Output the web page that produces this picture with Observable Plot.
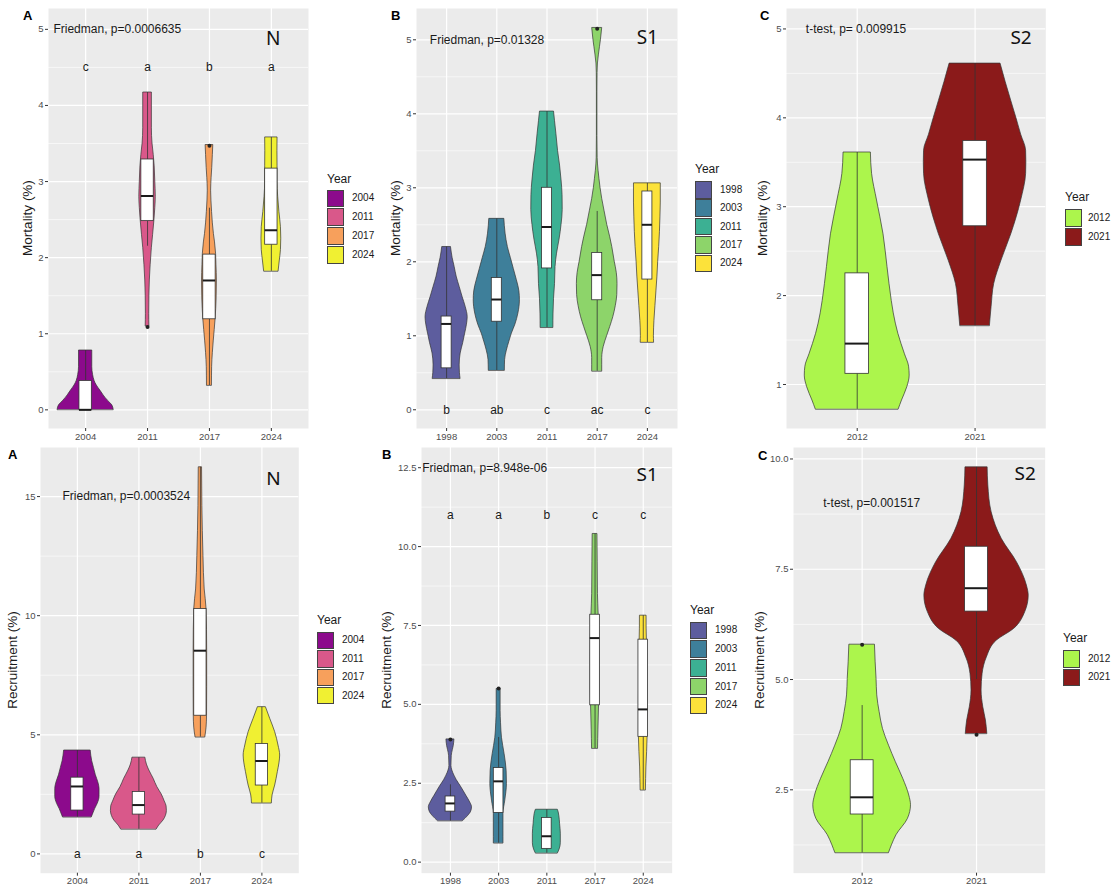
<!DOCTYPE html>
<html><head><meta charset="utf-8">
<script src="https://cdn.jsdelivr.net/npm/d3@7"></script>
<script src="https://cdn.jsdelivr.net/npm/@observablehq/plot@0.6"></script>
<style>
body{margin:0;background:#fff;font-family:"Liberation Sans",Arial,Helvetica,sans-serif}
#root{position:relative;width:1117px;height:889px;overflow:hidden;background:#fff}
.abs{position:absolute}
.tag{font-weight:bold;font-size:13px;line-height:13px;color:#000}
.ylab{font-size:13.5px;line-height:14px;color:#1a1a1a;white-space:nowrap;transform:translate(-50%,-50%) rotate(-90deg)}
.legtitle{font-size:12px;line-height:12px;color:#1a1a1a;transform:translateY(-50%)}
.legkey{width:17px;height:17.5px;border:0.8px solid #444;box-sizing:border-box}
.leglab{font-size:10px;line-height:10px;color:#1a1a1a;transform:translateY(-50%)}
</style></head>
<body><div id="root"></div>
<script>
// ================= DATA =================
// Violin profiles: [value, half-width of violin (in category units)], bottom to top
// ---- Top row A: Mortality, site N ----
const mN_years = ["2004", "2011", "2017", "2024"];
const mN_colors = ["#8C0A8C", "#D9588A", "#F7A05C", "#F0F032"];
const mN_violins = [
  [[0,0.453],[0.06,0.43],[0.12,0.36],[0.19,0.29],[0.25,0.24],[0.32,0.18],[0.38,0.144],[0.46,0.12],[0.56,0.107],[0.78,0.107]],
  [[1.1,0.03],[1.26,0.027],[1.5,0.03],[1.7,0.037],[1.9,0.05],[2.13,0.07],[2.3,0.09],[2.48,0.11],[2.65,0.125],[2.8,0.133],[3.0,0.125],[3.2,0.115],[3.35,0.1],[3.5,0.08],[3.7,0.07],[4.17,0.07]],
  [[0.32,0.04],[0.56,0.043],[0.75,0.055],[0.91,0.07],[1.05,0.085],[1.2,0.1],[1.45,0.115],[1.7,0.12],[1.9,0.113],[2.05,0.107],[2.2,0.09],[2.31,0.072],[2.45,0.055],[2.6,0.042],[2.75,0.032],[2.88,0.027],[3.05,0.035],[3.18,0.045],[3.35,0.055],[3.48,0.062]],
  [[1.82,0.117],[1.95,0.135],[2.1,0.155],[2.25,0.16],[2.4,0.155],[2.6,0.13],[2.8,0.11],[3.0,0.1],[3.2,0.1],[3.4,0.098],[3.58,0.1]]
];
const mN_q1 = [0, 2.48, 1.19, 2.17];
const mN_med = [0, 2.81, 1.70, 2.36];
const mN_q3 = [0.38, 3.29, 2.04, 3.17];
const mN_lo = [0, 2.15, 0.32, 1.82];
const mN_hi = [0.78, 4.17, 2.65, 3.58];
const mN_outYear = ["2011", "2017"];
const mN_outVal = [1.09, 3.47];
const mN_letters = ["c", "a", "b", "a"];
const mN_test = "Friedman, p=0.0006635";
const mN_yTicks = [0, 1, 2, 3, 4, 5];

// ---- Top row B: Mortality, site S1 ----
const mS1_years = ["1998", "2003", "2011", "2017", "2024"];
const mS1_colors = ["#5D5D9E", "#3E7F9A", "#3CB093", "#8DD46A", "#FCE23A"];
const mS1_violins = [
  [[0.42,0.277],[0.5,0.265],[0.6,0.26],[0.76,0.28],[0.9,0.33],[1.03,0.37],[1.15,0.405],[1.25,0.42],[1.39,0.38],[1.52,0.32],[1.66,0.26],[1.8,0.2],[1.93,0.16],[2.05,0.12],[2.2,0.087]],
  [[0.53,0.16],[0.67,0.165],[0.8,0.2],[0.92,0.25],[1.03,0.3],[1.15,0.37],[1.3,0.43],[1.48,0.46],[1.6,0.45],[1.75,0.4],[1.9,0.34],[2.05,0.28],[2.2,0.22],[2.38,0.175],[2.58,0.15]],
  [[1.11,0.127],[1.3,0.13],[1.5,0.14],[1.7,0.16],[1.93,0.17],[2.11,0.2],[2.3,0.25],[2.5,0.29],[2.7,0.313],[2.9,0.31],[3.1,0.29],[3.3,0.26],[3.5,0.22],[3.73,0.187],[3.9,0.16],[4.03,0.14]],
  [[0.52,0.1],[0.7,0.1],[0.85,0.13],[1.0,0.2],[1.12,0.26],[1.25,0.32],[1.4,0.37],[1.55,0.4],[1.7,0.405],[1.85,0.39],[2.0,0.35],[2.2,0.3],[2.33,0.26],[2.5,0.2],[2.69,0.145],[2.85,0.1],[3.0,0.066],[3.12,0.045],[3.23,0.027],[3.4,0.01],[3.7,0.006],[4.0,0.006],[4.3,0.006],[4.55,0.008],[4.68,0.015],[4.8,0.035],[4.9,0.055],[5.0,0.075],[5.16,0.1]],
  [[0.91,0.133],[1.0,0.13],[1.2,0.14],[1.4,0.16],[1.6,0.18],[1.8,0.2],[2.0,0.215],[2.2,0.235],[2.4,0.25],[2.6,0.26],[2.8,0.267],[2.95,0.267],[3.06,0.267]]
];
const mS1_q1 = [0.56, 1.19, 1.91, 1.48, 1.76];
const mS1_med = [1.16, 1.49, 2.47, 1.82, 2.50];
const mS1_q3 = [1.26, 1.78, 3.00, 2.12, 2.95];
const mS1_lo = [0.42, 0.53, 1.11, 0.52, 0.91];
const mS1_hi = [2.20, 2.58, 4.03, 2.68, 3.06];
const mS1_outYear = ["2017"];
const mS1_outVal = [5.15];
const mS1_letters = ["b", "ab", "c", "ac", "c"];
const mS1_test = "Friedman, p=0.01328";
const mS1_yTicks = [0, 1, 2, 3, 4, 5];

// ---- Top row C: Mortality, site S2 ----
const mS2_years = ["2012", "2021"];
const mS2_colors = ["#ACF54C", "#8B1A1A"];
const mS2_violins = [
  [[0.72,0.352],[0.82,0.38],[0.97,0.425],[1.1,0.445],[1.2,0.44],[1.34,0.405],[1.57,0.349],[1.8,0.31],[1.94,0.293],[2.32,0.257],[2.69,0.223],[3.07,0.168],[3.37,0.126],[3.61,0.116]],
  [[1.66,0.126],[1.87,0.14],[2.13,0.162],[2.39,0.223],[2.69,0.307],[3.07,0.391],[3.37,0.433],[3.5,0.435],[3.63,0.433],[3.81,0.391],[4.0,0.35],[4.19,0.307],[4.4,0.26],[4.61,0.216]]
];
const mS2_q1 = [1.12, 2.78];
const mS2_med = [1.46, 3.53];
const mS2_q3 = [2.25, 3.74];
const mS2_lo = [0.72, 1.66];
const mS2_hi = [3.61, 4.61];
const mS2_outYear = [];
const mS2_outVal = [];
const mS2_test = "t-test, p= 0.009915";
const mS2_yTicks = [1, 2, 3, 4, 5];

// ---- Bottom row A: Recruitment, site N ----
const rN_years = ["2004", "2011", "2017", "2024"];
const rN_colors = ["#8C0A8C", "#D9588A", "#F7A05C", "#F0F032"];
const rN_violins = [
  [[1.54,0.235],[1.7,0.26],[1.89,0.29],[2.1,0.33],[2.4,0.36],[2.73,0.36],[3.0,0.34],[3.3,0.3],[3.6,0.27],[3.9,0.24],[4.34,0.216]],
  [[1.03,0.29],[1.19,0.33],[1.4,0.4],[1.6,0.44],[1.8,0.455],[2.0,0.45],[2.2,0.42],[2.5,0.37],[2.8,0.3],[3.15,0.24],[3.5,0.17],[3.75,0.13],[4.04,0.105]],
  [[4.9,0.08],[5.3,0.1],[5.8,0.108],[7.0,0.11],[8.5,0.11],[10.28,0.1],[11.1,0.07],[12.5,0.05],[14.6,0.032],[16.23,0.027]],
  [[2.13,0.162],[2.45,0.173],[2.87,0.216],[3.43,0.259],[3.8,0.285],[4.13,0.297],[4.55,0.27],[5.11,0.216],[5.67,0.135],[6.16,0.065]]
];
const rN_q1 = [1.82, 1.65, 5.8, 2.87];
const rN_med = [2.83, 2.05, 8.53, 3.90];
const rN_q3 = [3.20, 2.60, 10.28, 4.61];
const rN_lo = [1.54, 1.03, 4.9, 2.13];
const rN_hi = [4.34, 4.04, 16.23, 6.16];
const rN_outYear = [];
const rN_outVal = [];
const rN_letters = ["a", "a", "b", "c"];
const rN_test = "Friedman, p=0.0003524";
const rN_yTicks = [0, 5, 10, 15];

// ---- Bottom row B: Recruitment, site S1 ----
const rS1_years = ["1998", "2003", "2011", "2017", "2024"];
const rS1_colors = ["#5D5D9E", "#3E7F9A", "#3CB093", "#8DD46A", "#FCE23A"];
const rS1_violins = [
  [[1.3,0.26],[1.45,0.36],[1.6,0.43],[1.74,0.448],[1.89,0.41],[2.1,0.331],[2.42,0.207],[2.6,0.13],[2.74,0.083],[2.9,0.04],[3.05,0.021],[3.37,0.028],[3.55,0.05],[3.68,0.069],[3.89,0.083]],
  [[0.6,0.1],[1.0,0.1],[1.53,0.1],[1.95,0.138],[2.47,0.172],[2.89,0.166],[3.42,0.124],[3.94,0.069],[4.4,0.05],[4.79,0.041],[5.49,0.041]],
  [[0.28,0.23],[0.4,0.265],[0.6,0.29],[0.9,0.29],[1.2,0.275],[1.45,0.26],[1.58,0.245],[1.66,0.228]],
  [[3.6,0.062],[4.2,0.07],[4.97,0.083],[5.5,0.09],[6.5,0.09],[7.84,0.075],[8.5,0.06],[9.5,0.055],[10.4,0.05]],
  [[2.28,0.055],[3.0,0.065],[3.97,0.09],[5.0,0.09],[7.05,0.075],[7.4,0.07],[7.81,0.069]]
];
const rS1_q1 = [1.60, 1.56, 0.42, 4.97, 3.97];
const rS1_med = [1.86, 2.56, 0.82, 7.10, 4.84];
const rS1_q3 = [2.08, 2.98, 1.40, 7.84, 7.05];
const rS1_lo = [1.30, 0.60, 0.28, 3.60, 2.28];
const rS1_hi = [2.45, 3.95, 1.66, 10.40, 7.81];
const rS1_outYear = ["1998", "2003"];
const rS1_outVal = [3.89, 5.50];
const rS1_letters = ["a", "a", "b", "c", "c"];
const rS1_test = "Friedman, p=8.948e-06";
const rS1_yTicks = [0, 2.5, 5, 7.5, 10, 12.5];

// ---- Bottom row C: Recruitment, site S2 ----
const rS2_years = ["2012", "2021"];
const rS2_colors = ["#ACF54C", "#8B1A1A"];
const rS2_violins = [
  [[1.07,0.235],[1.24,0.26],[1.47,0.3],[1.84,0.4],[2.15,0.427],[2.37,0.412],[2.75,0.359],[3.13,0.294],[3.5,0.235],[3.88,0.182],[4.26,0.153],[4.64,0.132],[5.01,0.126],[5.39,0.118],[5.79,0.112]],
  [[3.77,0.094],[4.07,0.082],[4.37,0.059],[4.75,0.044],[5.13,0.053],[5.5,0.09],[5.88,0.176],[6.15,0.33],[6.53,0.426],[6.9,0.456],[7.13,0.44],[7.66,0.353],[8.19,0.22],[8.79,0.132],[9.4,0.103],[9.81,0.097]]
];
const rS2_q1 = [1.94, 6.54];
const rS2_med = [2.33, 7.07];
const rS2_q3 = [3.17, 8.01];
const rS2_lo = [1.07, 5.00];
const rS2_hi = [4.41, 9.81];
const rS2_outYear = ["2012", "2021"];
const rS2_outVal = [5.79, 3.75];
const rS2_test = "t-test, p=0.001517";
const rS2_yTicks = [2.5, 5, 7.5, 10];

// ================= LAYOUT / STYLE =================
const FONT = '"Liberation Sans", Arial, Helvetica, sans-serif';
const fInt = d3.format("d"), f1 = d3.format(".1f");

const panels = [
  {years: mN_years, colors: mN_colors, violins: mN_violins, q1: mN_q1, med: mN_med, q3: mN_q3, lo: mN_lo, hi: mN_hi,
   outYear: mN_outYear, outVal: mN_outVal, letters: mN_letters, letterY: 4.5, test: mN_test, testX: 0.48, testY: 5,
   site: "N", siteX: 4.03, siteY: 4.87, ylabel: "Mortality (%)", tag: "A",
   area: [48, 8, 308, 428], yDomain: [-0.245, 5.274], ticks: mN_yTicks, minor: [0.5, 1.5, 2.5, 3.5, 4.5], fmt: fInt,
   tagPos: [23, 9], ylabPos: [28, 218], legend: {x: 327, titleY: 179, keyTop: 189.5, step: 18.9, labX: 352}},
  {years: mS1_years, colors: mS1_colors, violins: mS1_violins, q1: mS1_q1, med: mS1_med, q3: mS1_q3, lo: mS1_lo, hi: mS1_hi,
   outYear: mS1_outYear, outVal: mS1_outVal, letters: mS1_letters, letterY: 0, test: mS1_test, testX: 0.665, testY: 5,
   site: "S1", siteX: 5.0, siteY: 5.02, ylabel: "Mortality (%)", tag: "B",
   area: [415.7, 8, 676.7, 428], yDomain: [-0.253, 5.423], ticks: mS1_yTicks, minor: [0.5, 1.5, 2.5, 3.5, 4.5], fmt: fInt,
   tagPos: [391, 9], ylabPos: [396, 218], legend: {x: 695, titleY: 169, keyTop: 181, step: 18.4, labX: 720}},
  {years: mS2_years, colors: mS2_colors, violins: mS2_violins, q1: mS2_q1, med: mS2_med, q3: mS2_q3, lo: mS2_lo, hi: mS2_hi,
   outYear: mS2_outYear, outVal: mS2_outVal, letters: null, test: mS2_test, testX: 0.564, testY: 5,
   site: "S2", siteX: 2.39, siteY: 4.9, ylabel: "Mortality (%)", tag: "C",
   area: [785.7, 8, 1045, 428], yDomain: [0.505, 5.23], ticks: mS2_yTicks, minor: [1.5, 2.5, 3.5, 4.5], fmt: fInt,
   tagPos: [760, 9], ylabPos: [763, 218], legend: {x: 1065, titleY: 197, keyTop: 209, step: 19, labX: 1088}},
  {years: rN_years, colors: rN_colors, violins: rN_violins, q1: rN_q1, med: rN_med, q3: rN_q3, lo: rN_lo, hi: rN_hi,
   outYear: rN_outYear, outVal: rN_outVal, letters: rN_letters, letterY: 0, test: rN_test, testX: 0.758, testY: 15,
   site: "N", siteX: 4.19, siteY: 15.76, ylabel: "Recruitment (%)", tag: "A",
   area: [40, 447, 298.3, 872.7], yDomain: [-0.81, 17.06], ticks: rN_yTicks, minor: [2.5, 7.5, 12.5], fmt: fInt,
   tagPos: [8, 448], ylabPos: [13, 660], legend: {x: 317, titleY: 620, keyTop: 631.7, step: 18.4, labX: 342}},
  {years: rS1_years, colors: rS1_colors, violins: rS1_violins, q1: rS1_q1, med: rS1_med, q3: rS1_q3, lo: rS1_lo, hi: rS1_hi,
   outYear: rS1_outYear, outVal: rS1_outVal, letters: rS1_letters, letterY: 11, test: rS1_test, testX: 0.415, testY: 12.5,
   site: "S1", siteX: 5.08, siteY: 12.26, ylabel: "Recruitment (%)", tag: "B",
   area: [421, 447, 671.7, 872.7], yDomain: [-0.35, 13.14], ticks: rS1_yTicks, minor: [1.25, 3.75, 6.25, 8.75, 11.25], fmt: f1,
   tagPos: [382, 448], ylabPos: [387, 660], legend: {x: 690, titleY: 610, keyTop: 621.7, step: 18.7, labX: 715}},
  {years: rS2_years, colors: rS2_colors, violins: rS2_violins, q1: rS2_q1, med: rS2_med, q3: rS2_q3, lo: rS2_lo, hi: rS2_hi,
   outYear: rS2_outYear, outVal: rS2_outVal, letters: null, test: rS2_test, testX: 0.66, testY: 9,
   site: "S2", siteX: 2.425, siteY: 9.67, ylabel: "Recruitment (%)", tag: "C",
   area: [793.3, 447, 1045, 872.7], yDomain: [0.61, 10.26], ticks: rS2_yTicks, minor: [1.25, 3.75, 6.25, 8.75], fmt: f1,
   tagPos: [758, 449], ylabPos: [760, 660], legend: {x: 1063, titleY: 638, keyTop: 650, step: 18.5, labX: 1088}}
];

const root = document.getElementById("root");
function addDiv(cls, x, y, text, extra) {
  const d = document.createElement("div");
  d.className = "abs " + cls;
  d.style.left = x + "px"; d.style.top = y + "px";
  if (text != null) d.textContent = text;
  if (extra) Object.assign(d.style, extra);
  root.appendChild(d);
  return d;
}

function drawPanel(c) {
  const n = c.years.length;
  const idx = d3.range(1, n + 1);
  const vRows = c.violins.flatMap((prof, k) => prof.map(([v, w]) => ({year: c.years[k], i: k + 1, v, w})));
  const bRows = c.years.map((y, k) => ({year: y, i: k + 1, q1: c.q1[k], med: c.med[k], q3: c.q3[k], lo: c.lo[k], hi: c.hi[k]}));
  const oRows = c.outYear.map((y, k) => ({i: c.years.indexOf(y) + 1, v: c.outVal[k]}));
  const W = c.area[2] - c.area[0], H = c.area[3] - c.area[1];
  const mL = 40, mB = 22, mT = 0, mR = 1;
  const marks = [
    Plot.frame({fill: "#EBEBEB", stroke: "none"}),
    Plot.gridY(c.minor, {stroke: "#fff", strokeOpacity: 1, strokeWidth: 0.6}),
    Plot.gridY(c.ticks, {stroke: "#fff", strokeOpacity: 1, strokeWidth: 1.2}),
    Plot.gridX(idx, {stroke: "#fff", strokeOpacity: 1, strokeWidth: 1.2}),
    Plot.axisY(c.ticks, {tickSize: 3, tickPadding: 2, fill: "#4D4D4D", stroke: "#333", tickFormat: c.fmt, label: null, fontSize: 9.5}),
    Plot.axisX(idx, {tickSize: 3, tickPadding: 1.5, fill: "#4D4D4D", stroke: "#333", tickFormat: i => c.years[i - 1], label: null, fontSize: 9.5}),
    Plot.areaX(vRows, {y: "v", x1: d => d.i - d.w, x2: d => d.i + d.w, z: "year", fill: "year", stroke: "#333", strokeWidth: 0.7, curve: "monotone-y"}),
    Plot.ruleX(bRows, {x: "i", y1: "lo", y2: "q1", stroke: "#333", strokeWidth: 0.8}),
    Plot.ruleX(bRows, {x: "i", y1: "q3", y2: "hi", stroke: "#333", strokeWidth: 0.8}),
    Plot.rect(bRows, {x1: d => d.i - 0.1, x2: d => d.i + 0.1, y1: "q1", y2: "q3", fill: "#fff", stroke: "#333", strokeWidth: 0.8}),
    Plot.ruleY(bRows, {y: "med", x1: d => d.i - 0.1, x2: d => d.i + 0.1, stroke: "#1a1a1a", strokeWidth: 2}),
    Plot.dot(oRows, {x: "i", y: "v", r: 2, fill: "#222", stroke: "none"}),
    Plot.text([c.test], {x: c.testX, y: c.testY, text: d => d, textAnchor: "start", fontSize: 12, fill: "#1a1a1a"}),
    Plot.text([c.site], {x: c.siteX, y: c.siteY, text: d => d, fontSize: 19, fontFamily: '"Noto Sans", "Open Sans", sans-serif', fill: "#111"})
  ];
  if (c.letters) marks.push(Plot.text(idx, {x: d => d, y: () => c.letterY, text: d => c.letters[d - 1], fontSize: 12, fill: "#1a1a1a"}));
  const svg = Plot.plot({
    width: mL + W + mR, height: mT + H + mB,
    marginLeft: mL, marginRight: mR, marginTop: mT, marginBottom: mB,
    style: {fontFamily: FONT, fontSize: "9.5px", background: "transparent", overflow: "visible"},
    x: {domain: [0.4, n + 0.6], label: null},
    y: {domain: c.yDomain, label: null},
    color: {domain: c.years, range: c.colors},
    marks
  });
  svg.style.position = "absolute";
  svg.style.left = (c.area[0] - mL) + "px";
  svg.style.top = (c.area[1] - mT) + "px";
  root.appendChild(svg);

  addDiv("tag", c.tagPos[0], c.tagPos[1], c.tag);
  addDiv("ylab", c.ylabPos[0], c.ylabPos[1], c.ylabel);
  const L = c.legend;
  addDiv("legtitle", L.x, L.titleY, "Year");
  c.years.forEach((y, k) => {
    addDiv("legkey", L.x, L.keyTop + k * L.step, null, {background: c.colors[k]});
    addDiv("leglab", L.labX, L.keyTop + k * L.step + 8.75, y);
  });
}
panels.forEach(drawPanel);
</script>
</body></html>
